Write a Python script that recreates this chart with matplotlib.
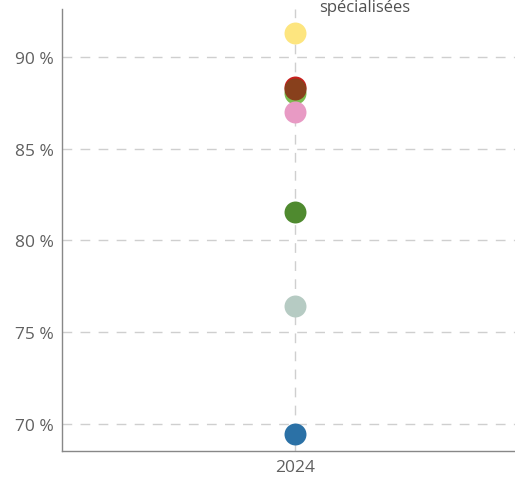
import matplotlib.pyplot as plt

# Data
years = ["2024"]
series_names = ["s1", "s2", "s3", "s4", "s5", "s6", "s7", "s8"]
values = [91.3, 88.35, 88.05, 88.26, 87.0, 81.55, 76.4, 69.45]
colors = ["#fde57f", "#c8201e", "#7cbd50", "#88401c", "#e89ac4", "#4f8a2f", "#b6cbc3", "#2b71a6"]
yticks = [70, 75, 80, 85, 90]
ytick_labels = ["70 %", "75 %", "80 %", "85 %", "90 %"]

plt.rcParams["font.family"] = ["Open Sans", "DejaVu Sans"]

fig = plt.figure(figsize=(5.15, 4.81), dpi=100)
ax = fig.add_axes([62 / 515, 29 / 481, 453 / 515, 442 / 481])

for name, v, c in zip(series_names, values, colors):
    ax.scatter([0], [v], s=250, color=c, zorder=3, linewidths=0)

ax.set_xlim(-1, 0.944)
ax.set_ylim(68.53, 92.6)
ax.set_xticks([0])
ax.set_xticklabels(years)
ax.set_yticks(yticks)
ax.set_yticklabels(ytick_labels)
ax.tick_params(axis="both", length=0, labelsize=12.5, colors="#606060")
ax.tick_params(axis="x", pad=6)
ax.tick_params(axis="y", pad=6)

ax.grid(True, color="#cfcfcf", linestyle=(0, (7, 6)), linewidth=1, zorder=0)
for s in ["top", "right"]:
    ax.spines[s].set_visible(False)
for s in ["left", "bottom"]:
    ax.spines[s].set_color("#888888")
    ax.spines[s].set_linewidth(1)

fig.text(365 / 515, 1 - 12 / 481, "spécialisées", ha="center", va="baseline",
         fontsize=12, color="#505050")

fig.savefig("out.png", dpi=100)
